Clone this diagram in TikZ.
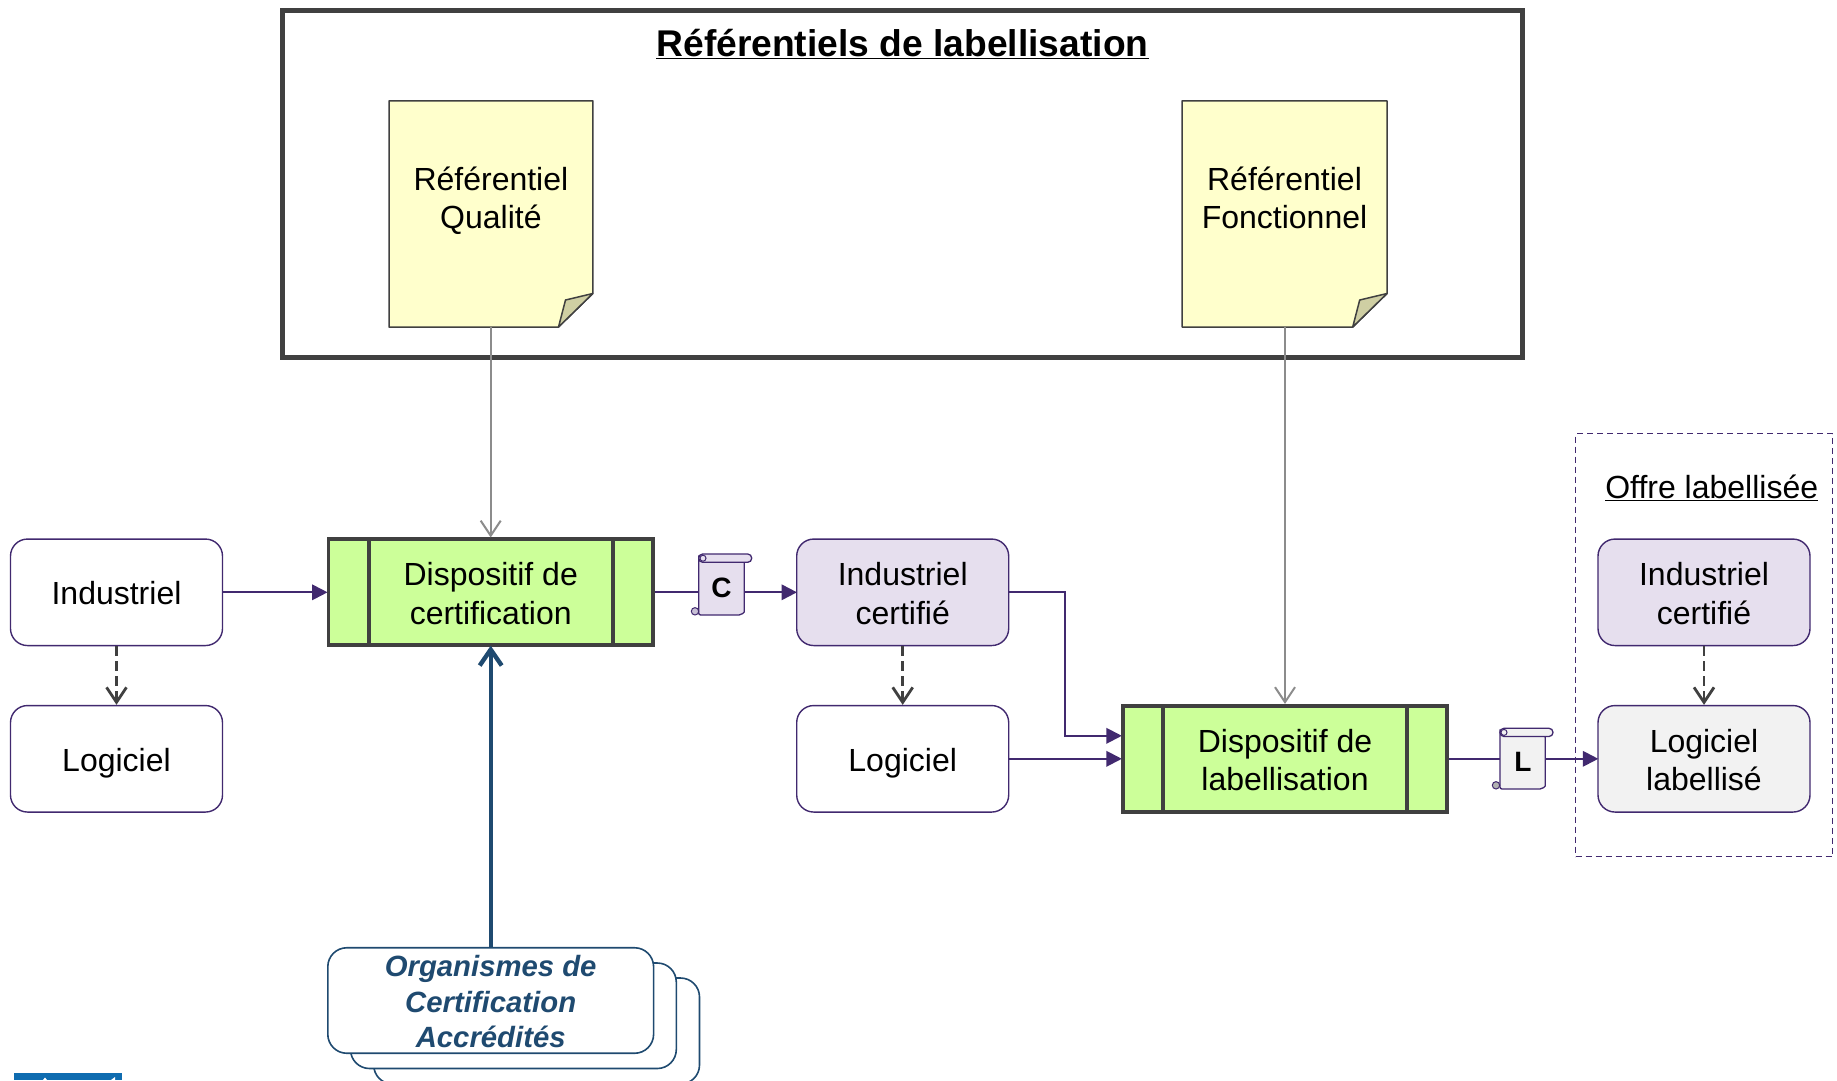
\documentclass[tikz,border=0pt]{standalone}
\usepackage{fontspec}
\setmainfont{Liberation Sans}
\usetikzlibrary{arrows.meta,fit}
\definecolor{pur}{HTML}{41296F}
\definecolor{purfill}{HTML}{E6DFEE}
\definecolor{dk}{HTML}{404040}
\definecolor{grn}{HTML}{CCFF99}
\definecolor{nt}{HTML}{FFFFCC}
\definecolor{fold}{HTML}{CFCFA3}
\definecolor{gy}{HTML}{8C8C8C}
\definecolor{nv}{HTML}{1F4A70}
\definecolor{lg}{HTML}{F2F2F2}
\definecolor{logo}{HTML}{0F6CB0}
\newcommand{\lst}{\rule[-6.8pt]{0pt}{38.6pt}}
\tikzset{
 x=1pt,y=-1pt,
 txt/.style={font=\fontsize{32}{38.6}\selectfont,align=center,text=black,inner sep=0pt},
 rbox/.style={draw=pur,line width=1.4pt,rounded corners=17pt,fill=white,minimum width=212pt,minimum height=106.5pt,txt},
 disp/.style={draw=dk,line width=3.7pt,fill=grn,minimum width=324.6pt,minimum height=106pt,txt},
 flow/.style={draw=pur,line width=2pt,shorten >=-1pt,-{Triangle[length=15.5pt,width=15.5pt]}},
 flowplain/.style={draw=pur,line width=2pt},
 dep/.style={draw=dk,line width=2.8pt,dash pattern=on 9.5pt off 5.5pt,-{Straight Barb[length=15pt,width=20pt,line width=2.8pt]}},
 ref/.style={draw=gy,line width=2pt,-{Straight Barb[length=15pt,width=20pt,line width=2pt]}},
 stack/.style={draw=nv,line width=1.6pt,fill=white,rounded corners=19pt},
 scr/.style={draw=pur,line width=1.3pt,rounded corners=2pt},
 lbl/.style={font=\fontsize{28}{30}\selectfont\bfseries,inner sep=0pt,text=black},
 nte/.style={draw=dk,line width=1.5pt,fill=nt,line join=round},
 fl/.style={draw=dk,line width=1.5pt,fill=fold,line join=round},
}
\begin{document}
\begin{tikzpicture}
\useasboundingbox (0,0) rectangle (1837,1080);
\fill[white] (0,0) rectangle (1837,1080);
% frame
\node[draw=dk,line width=4.6pt,minimum width=1240pt,minimum height=346.6pt,inner sep=0pt] (frame) at (902.7,184) {};
\node[font=\fontsize{37.2}{44}\selectfont\bfseries,inner sep=0pt,anchor=base] (title) at (902.5,56) {\underline{Référentiels de labellisation}};
% notes
\path[nte] (389,100.8) -- (592.8,100.8) -- (592.8,293.5) -- (558.5,327) -- (389,327) -- cycle;
\path[fl] (558.5,327) -- (565.5,300) -- (592.8,293.5) -- cycle;
\coordinate (q) at (490.7,327);
\node[txt] (nq) at (490.9,197) {\lst Référentiel\\\lst Qualité};
\path[nte] (1182,100.8) -- (1387,100.8) -- (1387,293.5) -- (1352.7,327) -- (1182,327) -- cycle;
\path[fl] (1352.7,327) -- (1359.7,300) -- (1387,293.5) -- cycle;
\coordinate (f) at (1285,327);
\node[txt] (nf) at (1284.5,197) {\lst Référentiel\\\lst Fonctionnel};
% left boxes
\node[rbox] (ind) at (116.5,592.3) {\lst Industriel};
\node[rbox] (log) at (116.5,758.8) {\lst Logiciel};
\node[disp] (d1) at (490.7,592.3) {\lst Dispositif de\\\lst certification};
\draw[dk,line width=3.7pt] (368.7,539) -- (368.7,645.5) (612.7,539) -- (612.7,645.5);
\node[rbox,fill=purfill] (ic) at (902.7,592.3) {\lst Industriel\\\lst certifié};
\node[rbox] (l2) at (902.7,758.8) {\lst Logiciel};
\node[disp] (d2) at (1285,758.8) {\lst Dispositif de\\\lst labellisation};
\draw[dk,line width=3.7pt] (1163.2,705.5) -- (1163.2,812) (1407,705.5) -- (1407,812);
% offer
\node[draw=pur,line width=1.4pt,dash pattern=on 6pt off 4pt,minimum width=257pt,minimum height=423pt,inner sep=0pt] (offre) at (1704.2,645) {};
\node[font=\fontsize{32}{38}\selectfont,inner sep=0pt,anchor=base] (otxt) at (1711.7,498) {\underline{Offre labellisée}};
\node[rbox,fill=purfill] (ic2) at (1704,592.3) {\lst Industriel\\\lst certifié};
\node[rbox,fill=lg] (ll) at (1704,758.8) {\lst Logiciel\\\lst labellisé};
% organismes stack
\path[stack] (373.7,978) rectangle (699.5,1084);
\path[stack] (350.5,963) rectangle (676.3,1068.5);
\node[stack,minimum width=325.8pt,minimum height=105.5pt,inner sep=0pt,font=\fontsize{29.3}{35.5}\selectfont\bfseries\itshape,text=nv,align=center] (org) at (490.7,1000.5) {\rule{0pt}{24pt}Organismes de\\Certification\\Accrédités};
% scrolls
\path[scr,fill=purfill] (698.7,556) -- (698.7,615) -- (741,615) [sharp corners] -- (744.3,612) -- (744.3,562.3) -- cycle;
\path[scr,fill=purfill,rounded corners=4pt] (698.7,554) rectangle (751.7,562.3);
\filldraw[draw=pur,line width=1pt,fill=purfill!60!pur!60] (695,611.3) circle (3.7pt);
\filldraw[draw=pur,line width=1pt,fill=purfill] (703,558.2) circle (3pt);
\node[lbl] (c) at (721.5,588) {C};
\path[scr,fill=lg] (1500,730) -- (1500,789) -- (1542,789) [sharp corners] -- (1545.3,786) -- (1545.3,736.5) -- cycle;
\path[scr,fill=lg,rounded corners=4pt] (1500,728.3) rectangle (1553,736.5);
\filldraw[draw=pur,line width=1pt,fill=gray!60] (1496,785.3) circle (3.7pt);
\filldraw[draw=pur,line width=1pt,fill=lg] (1504,732.4) circle (3pt);
\node[lbl] (ltr) at (1523,762) {L};
% connectors
\draw[flow] (ind.east) -- (d1.west);
\draw[flowplain] (d1.east) -- (698.7,592.3);
\draw[flow] (744.3,592.3) -- (ic.west);
\draw[flow] (ic.east) -- (1065,592.3) -- (1065,735.8) -- (d2.west |- 0,735.8);
\draw[flow] (l2.east) -- (d2.west);
\draw[flowplain] (d2.east) -- (1500,758.8);
\draw[flow] (1545.3,758.8) -- (ll.west);
\draw[dep] (ind.south) -- (log.north);
\draw[dep] (ic.south) -- (l2.north);
\draw[dep] (ic2.south) -- (ll.north);
\draw[ref] (q) -- (d1.north);
\draw[ref] (f) -- (d2.north);
\draw[draw=nv,line width=4.4pt,shorten >=-1.5pt,-{Straight Barb[length=16pt,width=22pt,line width=4.4pt]}] (org.north) -- (d1.south);
% clipped logo
\fill[logo] (13.5,1072.5) rectangle (122,1080);
\fill[white] (43,1080) -- (45,1077.5) -- (47,1080) -- cycle;
\fill[white] (111,1080) -- (115,1077) -- (115,1080) -- cycle;
\end{tikzpicture}
\end{document}
